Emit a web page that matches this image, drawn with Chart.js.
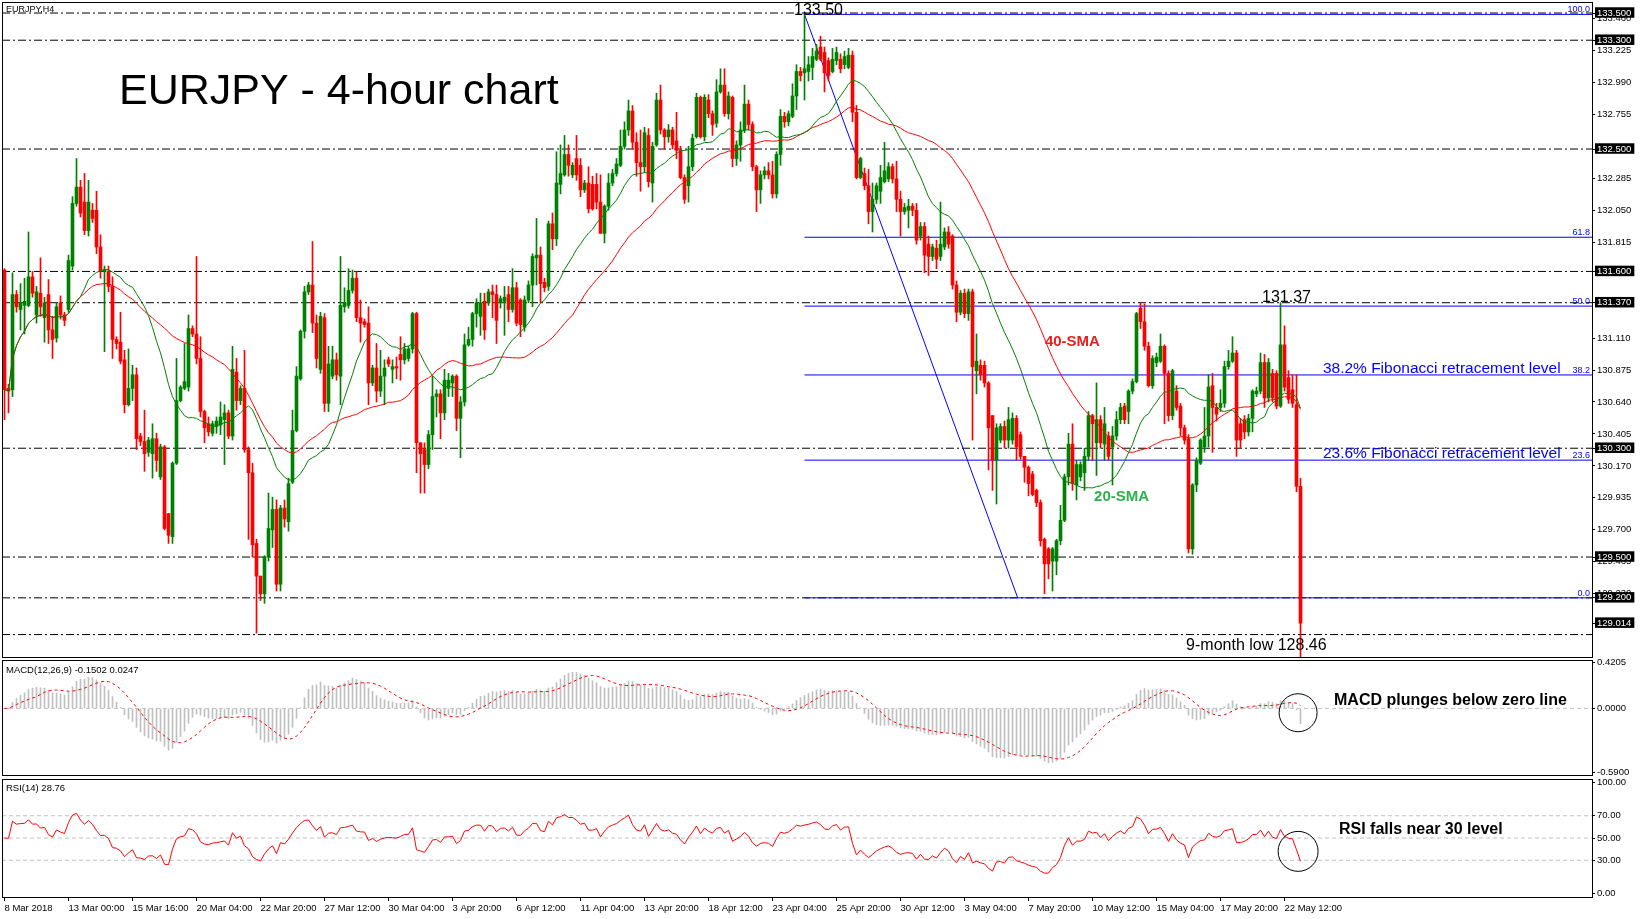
<!DOCTYPE html>
<html>
<head>
<meta charset="utf-8">
<title>EURJPY - 4-hour chart</title>
<script src="https://cdn.jsdelivr.net/npm/chart.js@4.4.1/dist/chart.umd.min.js"></script>
<style>
  html, body { margin:0; padding:0; background:#fff; }
  body { width:1645px; height:919px; position:relative; overflow:hidden; }
  canvas { position:absolute; left:0; }
</style>
</head>
<body>
<canvas id="mainChart" width="1645" height="660" style="top:0px"></canvas>
<canvas id="macdChart" width="1645" height="150" style="top:640px"></canvas>
<canvas id="rsiChart" width="1645" height="159" style="top:760px"></canvas>
<script>
// ---------------- DATA ----------------
const dateLabels = ["8 Mar 2018","13 Mar 00:00","15 Mar 16:00","20 Mar 04:00","22 Mar 20:00","27 Mar 12:00","30 Mar 04:00","3 Apr 20:00","6 Apr 12:00","11 Apr 04:00","13 Apr 20:00","18 Apr 12:00","23 Apr 04:00","25 Apr 20:00","30 Apr 12:00","3 May 04:00","7 May 20:00","10 May 12:00","15 May 04:00","17 May 20:00","22 May 12:00"];
const dateTickBars = [0,16,32,48,64,80,96,112,128,144,160,176,192,208,224,240,256,272,288,304,320];

const opens = [
131.61,130.74,130.73,131.43,131.32,131.35,131.35,131.56,131.28,131.44,
131.26,131.43,131.17,131.11,131.37,131.28,131.32,131.64,132.10,132.22,
132.11,131.90,132.05,132.05,131.78,131.60,131.60,131.49,131.10,131.08,
130.95,130.62,130.74,130.84,130.39,130.35,130.27,130.26,130.37,130.09,
130.31,129.82,129.65,130.19,130.65,130.74,130.75,131.18,131.14,130.96,
130.57,130.48,130.41,130.46,130.47,130.51,130.56,130.39,130.86,130.65,
130.74,130.29,130.12,129.60,129.36,129.23,129.50,129.70,129.85,129.30,
129.86,129.76,130.05,130.43,130.81,131.16,131.45,131.50,131.22,130.88,
131.26,130.63,130.83,130.95,130.83,131.34,131.35,131.46,131.55,131.26,
131.23,131.22,130.78,130.89,130.72,130.83,130.95,130.88,130.90,130.99,
130.95,130.96,131.03,131.29,130.34,130.29,130.18,130.40,130.68,130.70,
130.56,130.74,130.78,130.83,130.52,130.64,131.06,131.10,131.29,131.27,
131.38,131.37,131.45,131.43,131.37,131.38,131.43,131.32,131.48,131.39,
131.19,131.39,131.50,131.70,131.72,131.52,131.49,131.95,131.84,132.24,
132.31,132.46,132.31,132.43,132.38,132.20,132.25,132.24,132.24,132.11,
131.88,132.08,132.25,132.32,132.38,132.52,132.64,132.78,132.55,132.40,
132.37,132.60,132.25,132.53,132.86,132.64,132.59,132.64,132.56,132.49,
132.29,132.23,132.37,132.59,132.88,132.59,132.86,132.76,132.69,132.92,
132.97,132.76,132.88,132.43,132.53,132.64,132.83,132.68,132.37,132.20,
132.31,132.34,132.31,132.17,132.46,132.74,132.70,132.74,132.89,133.07,
133.06,133.07,133.10,133.16,133.25,133.21,133.15,133.07,133.15,133.16,
133.12,133.10,133.19,132.77,132.29,132.32,132.23,132.04,132.13,132.19,
132.26,132.28,132.37,132.28,132.13,132.04,132.05,132.08,132.05,131.86,
131.93,131.80,131.71,131.77,131.71,131.78,131.89,131.86,131.50,131.30,
131.44,131.29,131.45,130.87,130.91,130.91,130.78,130.54,130.21,130.36,
130.46,130.36,130.36,130.52,130.40,130.24,130.16,130.11,129.99,129.90,
129.63,129.56,129.47,129.47,129.62,129.77,130.09,130.33,130.03,130.09,
130.12,130.24,130.54,130.34,130.51,130.33,130.39,130.31,130.39,130.51,
130.61,130.57,130.72,130.79,131.33,131.23,131.05,130.76,130.93,130.94,
131.05,130.85,130.54,130.72,130.61,130.45,130.37,129.56,130.03,130.19,
130.31,130.39,130.76,130.60,130.60,130.63,130.90,130.94,131.00,130.48,
130.51,130.42,130.52,130.70,130.72,130.93,130.67,130.85,130.85,130.61,
131.06,130.82,130.73,130.62,130.02];

const highs = [
131.62,130.77,131.59,131.46,131.51,131.55,131.89,131.60,131.49,131.70,
131.41,131.54,131.27,131.37,131.42,131.30,131.72,132.15,132.43,132.27,
132.32,132.27,132.10,132.19,131.87,131.64,131.64,131.56,131.12,131.30,
131.02,131.03,130.91,130.89,130.41,130.58,130.38,130.48,130.41,130.33,
130.32,129.82,130.20,130.96,130.76,131.07,131.28,131.20,131.71,131.12,
130.58,130.53,130.50,130.53,130.64,130.62,130.58,131.05,130.96,130.76,
131.02,130.31,130.19,129.63,129.36,129.51,129.97,129.94,129.92,129.88,
129.92,130.08,130.58,130.90,131.17,131.49,131.52,131.82,131.28,131.30,
131.29,131.05,131.05,131.00,131.71,131.48,131.62,131.61,131.60,131.39,
131.25,131.34,130.91,131.07,131.02,130.95,130.97,130.95,130.97,131.12,
131.07,131.05,131.30,131.30,130.34,130.34,130.43,130.83,130.73,130.73,
130.88,130.85,130.84,130.84,130.68,131.14,131.19,131.30,131.40,131.44,
131.44,131.47,131.50,131.50,131.42,131.49,131.49,131.62,131.52,131.40,
131.42,131.53,131.73,131.99,131.78,131.55,131.97,132.03,132.48,132.53,
132.60,132.53,132.40,132.60,132.43,132.27,132.37,132.30,132.32,132.31,
132.09,132.32,132.35,132.43,132.64,132.70,132.86,132.82,132.62,132.64,
132.66,132.65,132.55,132.91,132.97,132.65,132.68,132.66,132.77,132.52,
132.31,132.52,132.61,132.91,132.89,132.90,132.90,132.78,133.01,133.09,
133.09,132.92,132.89,132.56,132.70,132.97,132.86,132.70,132.38,132.34,
132.37,132.40,132.41,132.48,132.79,132.77,132.78,132.98,133.12,133.10,
133.50,133.18,133.24,133.27,133.33,133.25,133.17,133.24,133.25,133.20,
133.22,133.24,133.22,132.82,132.44,132.36,132.35,132.25,132.25,132.38,
132.55,132.40,132.39,132.41,132.19,132.10,132.13,132.10,132.10,131.96,
131.96,131.86,131.80,131.83,132.11,131.92,131.93,131.87,131.53,131.46,
131.47,131.47,131.47,131.14,130.95,130.94,130.79,130.54,130.48,130.48,
130.50,130.60,130.56,130.54,130.42,130.24,130.17,130.13,130.00,129.92,
129.64,129.57,129.57,129.63,129.88,130.11,130.41,130.48,130.21,130.20,
130.30,130.57,130.55,130.78,130.54,130.60,130.42,130.46,130.57,130.63,
130.63,130.73,130.81,131.30,131.37,131.36,131.08,130.98,131.00,131.14,
131.06,130.87,130.88,130.76,130.63,130.47,130.40,130.04,130.23,130.37,
130.60,130.84,130.85,130.63,130.73,130.94,131.02,131.12,131.02,130.52,
130.54,130.55,130.73,130.75,131.00,130.99,130.96,130.88,130.87,131.37,
131.20,130.87,130.84,130.84,130.08];

const lows = [
130.51,130.56,130.68,131.30,131.17,131.14,131.34,131.41,131.22,131.27,
131.08,131.07,130.96,131.08,131.25,131.20,131.30,131.61,132.08,132.00,
131.87,131.86,131.96,131.73,131.55,131.01,131.45,130.96,131.03,130.92,
130.56,130.61,130.65,130.29,130.32,130.13,130.24,130.08,130.13,130.07,
129.70,129.60,129.60,130.18,130.64,130.73,130.72,131.12,130.92,130.53,
130.34,130.39,130.39,130.41,130.40,130.18,130.37,130.36,130.58,130.62,
130.27,129.63,129.50,128.94,129.18,129.16,129.47,129.57,129.25,129.25,
129.72,129.69,130.04,130.42,130.80,131.11,131.43,131.15,130.89,130.85,
130.57,130.57,130.81,130.80,130.62,131.30,131.33,131.44,131.23,131.08,
131.19,130.62,130.76,130.64,130.68,130.62,130.90,130.78,130.81,130.80,
130.92,130.94,131.00,130.12,129.97,129.97,130.15,130.29,130.53,130.37,
130.51,130.68,130.68,130.43,130.23,130.61,131.05,131.05,131.19,131.13,
131.10,131.35,131.26,131.07,131.33,131.13,131.23,131.30,131.20,131.12,
131.16,131.37,131.34,131.50,131.37,131.45,131.46,131.76,131.79,132.17,
132.30,132.30,132.29,132.27,132.15,132.18,132.03,132.05,132.06,131.88,
131.81,132.05,132.23,132.30,132.37,132.50,132.60,132.50,132.30,132.19,
132.33,132.22,132.11,132.52,132.61,132.50,132.55,132.50,132.43,132.28,
132.10,132.11,132.34,132.58,132.58,132.56,132.73,132.60,132.66,132.91,
132.74,132.72,132.37,132.38,132.41,132.62,132.64,132.34,132.04,132.10,
132.28,132.28,132.14,132.14,132.38,132.66,132.67,132.73,132.79,133.00,
132.86,133.00,133.01,133.15,133.15,132.92,133.00,133.06,133.12,133.06,
133.09,133.09,132.70,132.28,132.28,132.20,131.95,131.89,132.10,132.10,
132.25,132.26,132.25,132.04,131.86,132.02,131.92,132.01,131.80,131.83,
131.59,131.57,131.68,131.62,131.68,131.76,131.77,131.47,131.23,131.28,
131.26,131.24,130.36,130.70,130.80,130.75,130.14,129.99,129.89,130.34,
130.30,130.30,130.33,130.21,130.22,130.05,129.95,129.95,129.87,129.58,
129.23,129.34,129.25,129.37,129.59,129.76,130.03,129.99,129.92,130.06,
129.99,130.21,130.21,130.10,130.30,130.21,130.21,130.03,130.36,130.48,
130.48,130.48,130.70,130.78,131.18,131.02,130.75,130.74,130.90,130.93,
130.48,130.50,130.51,130.58,130.39,130.33,129.53,129.52,129.98,130.18,
130.27,130.31,130.27,130.50,130.57,130.60,130.88,130.93,130.24,130.30,
130.37,130.39,130.42,130.68,130.70,130.60,130.64,130.64,130.59,130.60,
130.72,130.63,130.60,129.98,128.46];

const closes = [
130.73,130.72,131.43,131.34,131.37,131.38,131.56,131.44,131.45,131.34,
131.37,131.17,131.10,131.34,131.28,131.24,131.68,132.10,132.22,132.03,
131.90,132.11,131.99,131.78,131.60,131.61,131.49,131.10,131.07,130.94,
130.62,130.74,130.84,130.37,130.35,130.26,130.36,130.37,130.21,130.31,
129.71,129.66,130.19,130.65,130.75,130.79,131.18,131.14,130.96,130.57,
130.45,130.42,130.48,130.50,130.53,130.56,130.39,130.88,130.65,130.74,
130.29,130.12,129.59,129.36,129.23,129.50,129.71,129.85,129.30,129.86,
129.78,130.04,130.43,130.83,131.16,131.45,131.50,131.22,130.96,131.27,
130.63,130.92,130.95,130.84,131.35,131.37,131.46,131.55,131.26,131.22,
131.21,130.78,130.89,130.72,130.83,130.89,130.92,130.90,130.89,130.95,
131.03,131.03,131.29,130.34,130.26,130.18,130.40,130.68,130.70,130.56,
130.80,130.80,130.83,130.52,130.64,131.06,131.10,131.29,131.37,131.37,
131.17,131.45,131.43,131.24,131.40,131.41,131.32,131.48,131.22,131.21,
131.39,131.50,131.71,131.72,131.51,131.48,131.95,131.84,132.25,132.32,
132.46,132.38,132.38,132.31,132.20,132.25,132.06,132.06,132.11,131.88,
132.08,132.25,132.32,132.39,132.52,132.64,132.78,132.55,132.40,132.37,
132.62,132.26,132.52,132.86,132.64,132.59,132.64,132.53,132.49,132.29,
132.13,132.37,132.58,132.88,132.59,132.88,132.76,132.68,132.92,132.97,
132.76,132.89,132.43,132.53,132.64,132.83,132.68,132.37,132.20,132.31,
132.34,132.31,132.17,132.46,132.74,132.70,132.76,132.89,133.07,133.04,
133.09,133.12,133.18,133.22,133.16,133.06,133.04,133.16,133.21,133.09,
133.18,133.19,132.77,132.29,132.43,132.23,132.04,132.13,132.23,132.29,
132.34,132.37,132.28,132.13,132.04,132.07,132.08,132.05,131.83,131.93,
131.72,131.71,131.78,131.69,131.80,131.89,131.80,131.50,131.30,131.44,
131.29,131.45,130.90,130.94,130.84,130.78,130.45,130.21,130.45,130.46,
130.36,130.51,130.52,130.31,130.24,130.16,130.04,129.96,129.90,129.62,
129.45,129.45,129.56,129.62,129.77,130.09,130.33,130.04,130.18,130.18,
130.24,130.54,130.48,130.51,130.34,130.48,130.24,130.39,130.51,130.60,
130.51,130.72,130.79,131.29,131.23,131.05,130.76,130.96,130.97,131.05,
130.85,130.54,130.87,130.60,130.45,130.36,129.56,130.03,130.21,130.36,
130.39,130.75,130.60,130.55,130.63,130.90,130.94,131.00,130.36,130.36,
130.42,130.52,130.72,130.72,130.93,130.67,130.93,130.67,130.61,131.06,
130.75,130.66,130.63,130.02,129.014];

const priceTicks   = [133.460,133.225,132.990,132.755,132.285,132.050,131.815,131.110,130.875,130.640,130.405,130.170,129.935,129.700,129.465,129.230];
const markedPrices = [133.500,133.300,132.500,131.600,131.370,130.300,129.500,129.200,129.014];
const levelLines   = [133.500,133.300,132.500,131.600,131.370,130.300,129.500,129.200,128.930];
const fibHigh = 133.49, fibLow = 129.20;
const fibStartBar = 200, trendEndBar = 253.3;
const fibRatios = [0, 23.6, 38.2, 50, 61.8, 100];
const fibNotes = {"38.2":"38.2% Fibonacci retracement level","23.6":"23.6% Fibonacci retracement level"};
const macdTicks = [0.4205, 0, -0.59];
const rsiTicks = [100, 70, 50, 30, 0];
const rsiLevels = [70, 50, 30];
const macdCaption = "MACD(12,26,9) -0.1502 0.0247";
const rsiCaption = "RSI(14) 28.76";

// ---------------- INDICATORS (from closes) ----------------
function sma(src, n){ const out=[]; let s=0; for(let i=0;i<src.length;i++){ s+=src[i]; if(i>=n) s-=src[i-n]; out.push(s/Math.min(i+1,n)); } return out; }
function ema(src, n){ const k=2/(n+1); const out=[src[0]]; for(let i=1;i<src.length;i++) out.push(src[i]*k+out[i-1]*(1-k)); return out; }
function rsi(src, n){
  // Wilder RSI, seeded with a neutral average move over the first n changes
  let seed = 0; for(let i=1;i<=n;i++) seed += Math.abs(src[i]-src[i-1]); seed /= (2*n);
  let ag = seed, al = seed; const out=[50];
  for(let i=1;i<src.length;i++){ const d=src[i]-src[i-1]; ag=(ag*(n-1)+Math.max(d,0))/n; al=(al*(n-1)+Math.max(-d,0))/n; out.push(al===0?100:100-100/(1+ag/al)); }
  return out;
}
const sma20 = sma(closes, 20);
const sma40 = sma(closes, 40);
const e12 = ema(closes, 12), e26 = ema(closes, 26);
const macdMain = closes.map((_, i) => e12[i] - e26[i]);
const macdSignal = sma(macdMain, 9);
const rsi14 = rsi(closes, 14);

// ---------------- STYLE ----------------
Chart.defaults.font.family = '"Liberation Sans", Arial, sans-serif';
Chart.defaults.color = '#000';
const UP = '#008000', DOWN = '#ff0000', FIB = '#0000ff', GREY = '#c0c0c0';
const X_MIN = -0.625, X_MAX = 396.875;
const isUp = i => closes[i] >= opens[i];

function xScaleCfg(show){
  return {
    type:'linear', min:X_MIN, max:X_MAX, offset:false, display:show,
    grid:{ offset:false, display:show, drawOnChartArea:false, drawTicks:true, tickLength:4, color:'#000' },
    border:{ display:show, color:'#000' },
    ticks:{ display:show, autoSkip:false, maxRotation:0, minRotation:0, align:'start', padding:2, font:{size:9.5}, color:'#000',
      callback:(v, i) => dateLabels[i] },
    afterBuildTicks: s => { s.ticks = dateTickBars.map(v => ({value:v})); },
    afterFit: s => { s.height = show ? 22 : 0; s.paddingLeft = 0; s.paddingRight = 0; }
  };
}
function yScaleCfg(min, max, tickVals, decimals, marked){
  return {
    type:'linear', position:'right', min, max, beginAtZero:false,
    grid:{ drawOnChartArea:false, drawTicks:true, tickLength:3, color:'#000' },
    border:{ display:true, color:'#000' },
    ticks:{ autoSkip:false, padding:2, font:{size:9.5, lineHeight:1},
      color: ctx => marked.includes(ctx.tick.value) ? '#fff' : '#000',
      showLabelBackdrop: ctx => marked.includes(ctx.tick.value),
      backdropColor:'#000', backdropPadding:{top:1,bottom:0,left:2,right:3},
      callback: v => v.toFixed(decimals) },
    afterBuildTicks: s => { s.ticks = tickVals.map(v => ({value:v})); },
    afterFit: s => { s.width = 53; s.paddingTop = 0; s.paddingBottom = 0; }
  };
}
const framePlugin = { id:'frame', afterDraw(chart){ const {ctx, chartArea:a} = chart; ctx.save(); ctx.strokeStyle='#000'; ctx.lineWidth=1; ctx.setLineDash([]); ctx.strokeRect(Math.round(a.left)+0.5, Math.round(a.top)+0.5, Math.round(a.right-a.left), Math.round(a.bottom-a.top)); ctx.restore(); } };
const hLine = (y, color, dash, order, fromX) => ({ type:'line', data:[{x:fromX===undefined?X_MIN:fromX, y},{x:X_MAX, y}], borderColor:color, borderWidth:1, borderDash:dash, pointRadius:0, order });
const common = { responsive:false, animation:false, events:[], plugins:{ legend:{display:false}, tooltip:{enabled:false} } };

// ---------------- MAIN PRICE CHART ----------------
const fibLevel = r => fibLow + (fibHigh - fibLow) * r / 100;
const mainDatasets = [];
levelLines.forEach(v => mainDatasets.push(hLine(v, '#000', [8,3,2,3], 6)));
fibRatios.forEach(r => mainDatasets.push(hLine(fibLevel(r), FIB, [], 5, fibStartBar)));
mainDatasets.push({ type:'line', data:[{x:fibStartBar, y:fibHigh},{x:trendEndBar, y:fibLow}], borderColor:FIB, borderWidth:1, pointRadius:0, order:5 });
mainDatasets.push({ type:'bar', data: lows.map((l,i) => ({x:i, y:[l, highs[i]]})), barThickness:1, grouped:false,
  backgroundColor: c => isUp(c.dataIndex) ? UP : DOWN, borderWidth:0, order:4 });
mainDatasets.push({ type:'bar', data: opens.map((o,i) => ({x:i, y:[Math.min(o,closes[i]), Math.max(o,closes[i])]})), barThickness:3, minBarLength:1, grouped:false,
  backgroundColor: c => isUp(c.dataIndex) ? UP : DOWN, borderWidth:0, order:3 });
mainDatasets.push({ type:'line', data: sma40.map((v,i)=>({x:i,y:v})), borderColor:'#ff0000', borderWidth:1, pointRadius:0, order:2 });
mainDatasets.push({ type:'line', data: sma20.map((v,i)=>({x:i,y:v})), borderColor:'#008000', borderWidth:1, pointRadius:0, order:1 });

const mainText = { id:'mainText', afterDraw(chart){
  const {ctx, chartArea:a} = chart; const xs = chart.scales.x, ys = chart.scales.y;
  ctx.save();
  ctx.textBaseline = 'alphabetic';
  ctx.fillStyle = '#000'; ctx.textAlign = 'left';
  ctx.font = '9px "Liberation Sans"'; ctx.fillText('EURJPY,H4', 6, 12);
  ctx.font = '43px "Liberation Sans"'; ctx.fillText('EURJPY - 4-hour chart', 119, 104);
  ctx.font = '16px "Liberation Sans"'; ctx.textAlign = 'center';
  ctx.fillText(highs[200].toFixed(2), xs.getPixelForValue(200) + 14, ys.getPixelForValue(fibHigh) + 0.5);
  ctx.fillText(highs[319].toFixed(2), xs.getPixelForValue(319) + 6, ys.getPixelForValue(131.37) - 1);
  ctx.textAlign = 'left';
  ctx.fillText('9-month low ' + lows[lows.length-1].toFixed(2), xs.getPixelForValue(295.4), 650);
  ctx.font = 'bold 15px "Liberation Sans"';
  ctx.fillStyle = '#ee1c1c'; ctx.fillText('40-SMA', xs.getPixelForValue(260.1), 346);
  ctx.fillStyle = '#2db04b'; ctx.fillText('20-SMA', xs.getPixelForValue(272.4), 501);
  ctx.fillStyle = FIB;
  ctx.font = '15.5px "Liberation Sans"';
  Object.keys(fibNotes).forEach(k => ctx.fillText(fibNotes[k], xs.getPixelForValue(329.6), ys.getPixelForValue(fibLevel(parseFloat(k))) - 2));
  ctx.font = '9px "Liberation Sans"'; ctx.textAlign = 'right';
  fibRatios.forEach(r => ctx.fillText(r.toFixed(1), a.right - 2, ys.getPixelForValue(fibLevel(r)) - 2));
  ctx.restore();
} };

new Chart(document.getElementById('mainChart'), {
  type:'bar',
  data:{ datasets: mainDatasets },
  options:{ ...common, layout:{ padding:{left:2, top:2, bottom:3, right:0} },
    scales:{ x: xScaleCfg(false), y: yScaleCfg(128.765, 133.581, priceTicks.concat(markedPrices), 3, markedPrices) } },
  plugins:[framePlugin, mainText]
});

// ---------------- MACD ----------------
const macdText = { id:'macdText', afterDraw(chart){
  const {ctx} = chart; const xs = chart.scales.x, ys = chart.scales.y;
  ctx.save(); ctx.fillStyle = '#000'; ctx.textBaseline = 'alphabetic'; ctx.textAlign = 'left';
  ctx.font = '9.5px "Liberation Sans"'; ctx.fillText(macdCaption, 6, 32.5);
  ctx.font = 'bold 16px "Liberation Sans"'; ctx.fillText('MACD plunges below zero line', 1334, 65);
  ctx.strokeStyle = '#000'; ctx.lineWidth = 1; ctx.beginPath();
  ctx.arc(xs.getPixelForValue(323.4), ys.getPixelForValue(-0.04), 19, 0, Math.PI*2); ctx.stroke();
  ctx.restore();
} };
new Chart(document.getElementById('macdChart'), {
  type:'bar',
  data:{ datasets:[
    hLine(0, GREY, [4,3], 3),
    { type:'bar', data: macdMain.map((v,i)=>({x:i,y:v})), barThickness:1, grouped:false, backgroundColor:GREY, borderWidth:0, order:2 },
    { type:'line', data: macdSignal.map((v,i)=>({x:i,y:v})), borderColor:'#ff0000', borderWidth:1, borderDash:[3,3], pointRadius:0, order:1 }
  ]},
  options:{ ...common, layout:{ padding:{left:2, top:20, bottom:15, right:0} },
    scales:{ x: xScaleCfg(false), y: yScaleCfg(-0.615, 0.447, macdTicks, 4, []) } },
  plugins:[framePlugin, macdText]
});

// ---------------- RSI ----------------
const rsiText = { id:'rsiText', afterDraw(chart){
  const {ctx} = chart; const xs = chart.scales.x, ys = chart.scales.y;
  ctx.save(); ctx.fillStyle = '#000'; ctx.textBaseline = 'alphabetic'; ctx.textAlign = 'left';
  ctx.font = '9.5px "Liberation Sans"'; ctx.fillText(rsiCaption, 6, 30.5);
  ctx.font = 'bold 16px "Liberation Sans"'; ctx.fillText('RSI falls near 30 level', 1339, 74);
  ctx.strokeStyle = '#000'; ctx.lineWidth = 1; ctx.beginPath();
  ctx.arc(xs.getPixelForValue(323.4), ys.getPixelForValue(38), 20, 0, Math.PI*2); ctx.stroke();
  ctx.restore();
} };
new Chart(document.getElementById('rsiChart'), {
  type:'line',
  data:{ datasets: rsiLevels.map(v => hLine(v, GREY, [4,3], 2)).concat([
    { type:'line', data: rsi14.map((v,i)=>({x:i,y:v})), borderColor:'#ff0000', borderWidth:1, pointRadius:0, order:1 }
  ])},
  options:{ ...common, layout:{ padding:{left:2, top:19, bottom:0, right:0} },
    scales:{ x: xScaleCfg(true), y: yScaleCfg(-3, 103, rsiTicks, 2, []) } },
  plugins:[framePlugin, rsiText]
});
</script>
</body>
</html>
